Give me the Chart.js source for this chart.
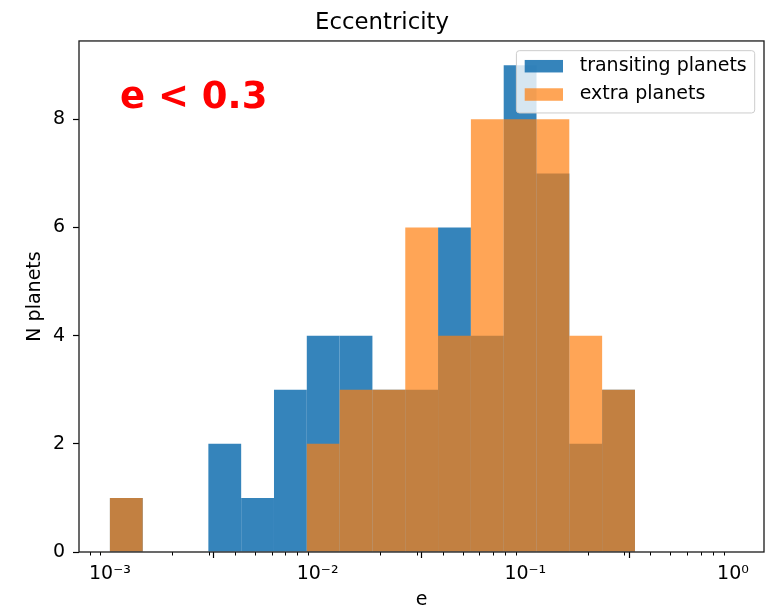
<!DOCTYPE html>
<html>
<head>
<meta charset="utf-8">
<title>Eccentricity</title>
<script src="https://cdn.jsdelivr.net/npm/chart.js@4.4.0/dist/chart.umd.min.js"></script>
<style>
  html, body { margin: 0; padding: 0; background: #fff; }
  #wrap { width: 776px; height: 610px; }
</style>
</head>
<body>
<div id="wrap"><canvas id="eccChart" width="776" height="610"></canvas></div>
<script>
// Log-spaced histogram bin edges (eccentricity)
const binEdges = [0.001, 0.001439, 0.002070, 0.002979, 0.004286, 0.006166, 0.008872,
  0.01276, 0.01837, 0.02643, 0.03802, 0.05470, 0.07871, 0.1132, 0.1629, 0.2344, 0.3373];

// Counts per bin
const transitingCounts = [1, 0, 0, 2, 1, 3, 4, 4, 3, 3, 6, 4, 9, 7, 2, 3];
const extraCounts = [1, 0, 0, 0, 0, 0, 2, 3, 3, 6, 4, 8, 8, 8, 4, 3];

const seriesLabels = ['transiting planets', 'extra planets'];
const xTicks = [0.001, 0.01, 0.1, 1];
const xTickLabels = ['10⁻³', '10⁻²', '10⁻¹', '10⁰'];
const yTicks = [0, 2, 4, 6, 8];

const BLUE = 'rgba(31, 119, 180, 0.9)';
const ORANGE = 'rgba(255, 127, 14, 0.7)';
const FONT = "'DejaVu Sans', sans-serif";

// bar centred on each bin (geometric middle)
function toPoints(counts) {
  return counts.map((c, i) => ({ x: Math.sqrt(binEdges[i] * binEdges[i + 1]), y: c }));
}

// frame, minor ticks, annotation and legend box
const extras = {
  id: 'extras',
  afterDatasetsDraw(chart) {
    const { ctx, chartArea: a } = chart;
    const xs = chart.scales.x;
    ctx.save();

    // minor ticks on the log axis
    ctx.strokeStyle = '#000';
    ctx.lineWidth = 1;
    for (let p = -4; p <= 0; p++) {
      for (let k = 2; k <= 9; k++) {
        const v = k * Math.pow(10, p);
        if (v < xs.min || v > xs.max) continue;
        const px = Math.round(xs.getPixelForValue(v)) + 0.5;
        ctx.beginPath();
        ctx.moveTo(px, a.bottom);
        ctx.lineTo(px, a.bottom + 3.5);
        ctx.stroke();
      }
    }

    // axes frame
    ctx.strokeStyle = '#1a1a1a';
    ctx.lineWidth = 1.3;
    ctx.strokeRect(a.left, a.top, a.right - a.left, a.bottom - a.top);

    // annotation
    ctx.fillStyle = '#ff0000';
    ctx.font = 'bold 37px ' + FONT;
    ctx.textBaseline = 'alphabetic';
    ctx.textAlign = 'left';
    ctx.fillText('e < 0.3', a.left + 41, a.top + 67);

    // legend
    const bx = a.right - 247.6, by = a.top + 9.7, bw = 238.3, bh = 62.3;
    ctx.beginPath();
    ctx.roundRect(bx, by, bw, bh, 3);
    ctx.fillStyle = 'rgba(255, 255, 255, 0.8)';
    ctx.fill();
    ctx.strokeStyle = '#cccccc';
    ctx.lineWidth = 1;
    ctx.stroke();

    const colors = [BLUE, ORANGE];
    ctx.font = '19px ' + FONT;
    ctx.textBaseline = 'middle';
    seriesLabels.forEach((label, i) => {
      const y = by + 9.3 + i * 28.3;
      ctx.fillStyle = colors[i];
      ctx.fillRect(bx + 8.3, y, 38.3, 12.5);
      ctx.fillStyle = '#000';
      ctx.fillText(label, bx + 63.3, y + 6);
    });

    ctx.restore();
  }
};

Chart.defaults.font.family = FONT;
Chart.defaults.color = '#000';

const barStyle = {
  borderWidth: 0,
  inflateAmount: 0,
  grouped: false,
  categoryPercentage: 1,
  barPercentage: 1
};

const ctx = document.getElementById('eccChart').getContext('2d');
new Chart(ctx, {
  type: 'bar',
  data: {
    datasets: [{
      label: seriesLabels[0],
      data: toPoints(transitingCounts),
      backgroundColor: BLUE,
      order: 1,
      ...barStyle
    }, {
      label: seriesLabels[1],
      data: toPoints(extraCounts),
      backgroundColor: ORANGE,
      order: 0,
      ...barStyle
    }]
  },
  options: {
    responsive: false,
    animation: false,
    events: [],
    layout: { padding: { left: 0, right: 12, top: 0, bottom: 0 } },
    scales: {
      x: {
        type: 'logarithmic',
        min: 7.1e-4,
        max: 1.41,
        afterBuildTicks: scale => { scale.ticks = xTicks.map(v => ({ value: v })); },
        afterFit: scale => { scale.height = 58; },
        ticks: {
          autoSkip: false,
          maxRotation: 0,
          padding: 5,
          font: { size: 19 },
          callback: (v, i) => xTickLabels[i]
        },
        grid: { drawOnChartArea: false, drawTicks: true, tickLength: 6, tickColor: '#000', tickWidth: 1.2 },
        border: { display: false },
        title: { display: true, text: 'e', font: { size: 19, lineHeight: 1 }, padding: { top: 0, bottom: 0.6 } }
      },
      y: {
        type: 'linear',
        min: 0,
        max: 9.45,
        afterBuildTicks: scale => { scale.ticks = yTicks.map(v => ({ value: v })); },
        afterFit: scale => { scale.width = 79; },
        ticks: { padding: 8, font: { size: 19 } },
        grid: { drawOnChartArea: false, drawTicks: true, tickLength: 6, tickColor: '#000', tickWidth: 1.2 },
        border: { display: false },
        title: { display: true, text: 'N planets', font: { size: 19 }, padding: { top: 24, bottom: 0 } }
      }
    },
    plugins: {
      legend: { display: false },
      tooltip: { enabled: false },
      title: {
        display: true,
        text: 'Eccentricity',
        font: { size: 22.8, weight: 'normal' },
        color: '#000',
        padding: { top: 9.5, bottom: 4.1 }
      }
    }
  },
  plugins: [extras]
});
</script>
</body>
</html>
